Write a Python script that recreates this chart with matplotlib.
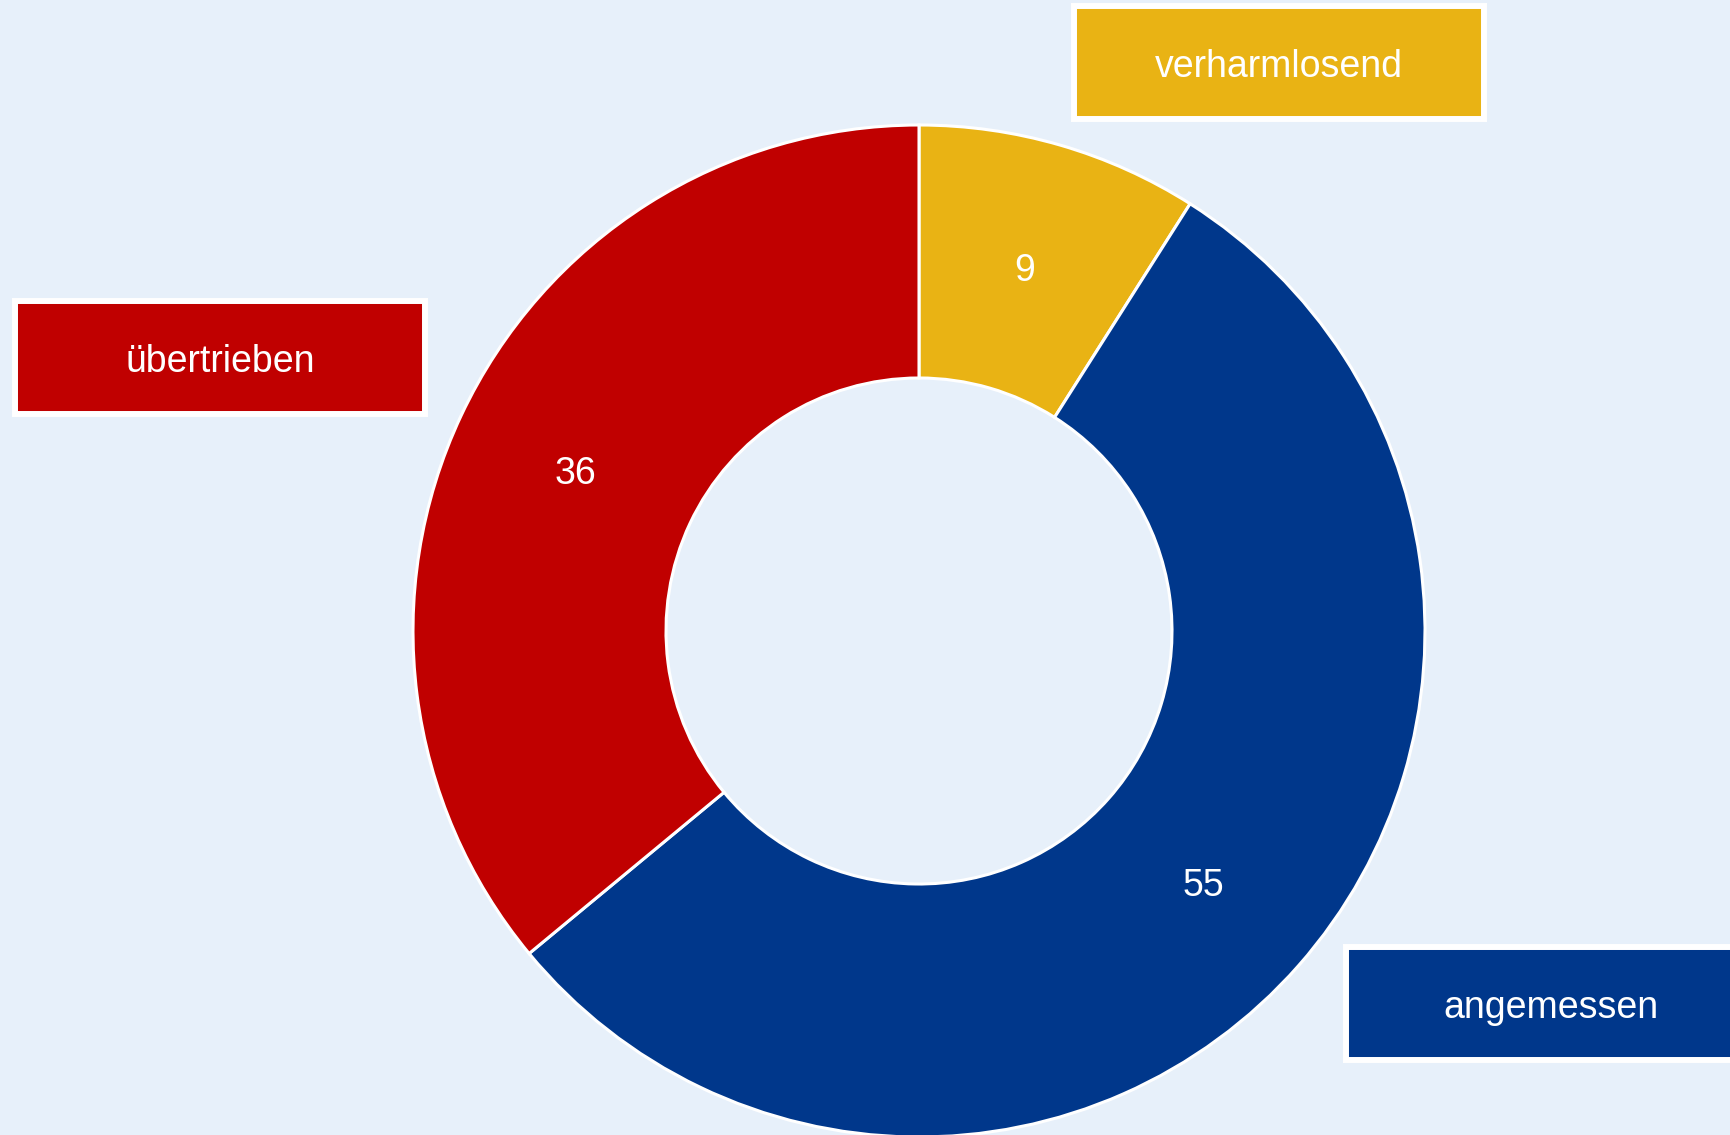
import matplotlib.pyplot as plt
from matplotlib.patches import Rectangle
import numpy as np

# donut data, clockwise from 12 o'clock
labels = ['verharmlosend', 'angemessen', 'übertrieben']
values = [9, 55, 36]
colors = ['#E9B314', '#00378B', '#C00000']

# label boxes (lower-left corner in pixels, y up)
box_xy = [(1074, 1016), (1346, 75), (15, 721)]
box_w = 410
box_h = 113

bg = '#E7F0FA'
plt.rcParams['font.family'] = ['Liberation Sans', 'DejaVu Sans']

fig = plt.figure(figsize=(17.3, 11.35), dpi=100, facecolor=bg)
ax = fig.add_axes([0, 0, 1, 1])
ax.set_facecolor(bg)

cx, cy, R = 919, 504, 506
ax.pie(values, colors=colors, startangle=90, counterclock=False,
       center=(cx, cy), radius=R, frame=True,
       wedgeprops=dict(width=R / 2, edgecolor='white', linewidth=2.2))
ax.set_xlim(0, 1730)
ax.set_ylim(0, 1135)
ax.axis('off')

# small nudge so text sits like the reference
dy = -4.5

# value labels in the middle of the ring
start = 90.0
total = sum(values)
for v in values:
    mid = start - v / total * 180.0
    r = R * 0.75
    x = cx + r * np.cos(np.radians(mid))
    y = cy + r * np.sin(np.radians(mid))
    ax.text(x, y + dy, str(v), color='white', fontsize=27, ha='center', va='center')
    start -= v / total * 360.0

for (bx, by), lab, col in zip(box_xy, labels, colors):
    ax.add_patch(Rectangle((bx, by), box_w, box_h, facecolor=col,
                           edgecolor='white', linewidth=4.3, clip_on=False))
    ax.text(bx + box_w / 2, by + box_h / 2 + dy, lab, color='white', fontsize=27,
            ha='center', va='center')

fig.savefig('out.png', dpi=100, facecolor=bg)
